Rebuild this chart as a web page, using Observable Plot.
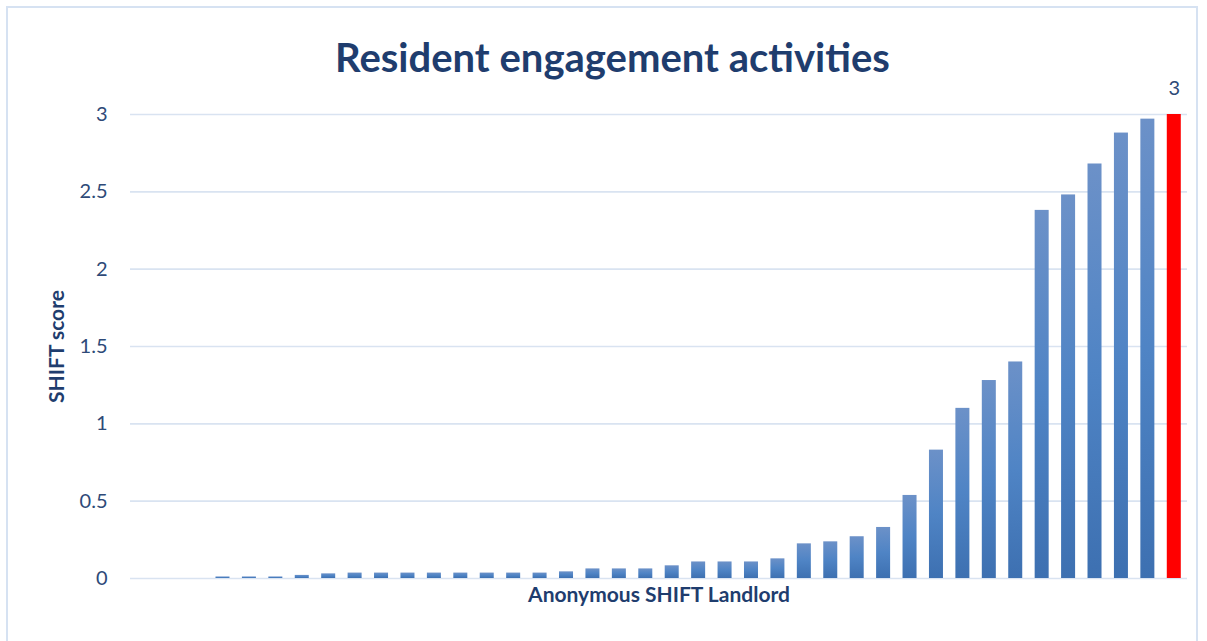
<!DOCTYPE html>
<html>
<head>
<meta charset="utf-8">
<script src="https://cdn.jsdelivr.net/npm/d3@7"></script>
<script src="https://cdn.jsdelivr.net/npm/@observablehq/plot@0.6"></script>
<style>
  html, body { margin: 0; padding: 0; background: #fff; overflow: hidden; }
  #wrap { position: relative; width: 1207px; height: 641px; font-family: Lato, "Open Sans", sans-serif; }
  #border { position: absolute; left: 6px; top: 6px; width: 1192px; height: 700px; border: 2px solid #D6E2F2; box-sizing: border-box; }
  #title { position: relative; height: 77px; box-sizing: border-box; padding-top: 35px; padding-left: 18px; text-align: center;
           font-size: 40px; line-height: 44px; font-weight: 700; color: #1F3D6E; white-space: nowrap; }
  #chart { position: relative; }
</style>
</head>
<body>
<div id="wrap">
  <div id="border"></div>
  <div id="title">Resident engagement activities</div>
  <div id="chart"></div>
</div>
<script>
// Landlords (anonymous), sorted by score
const landlords = d3.range(1, 41).map(i => "L" + i);
const scores = [
  0, 0, 0,
  0.01, 0.01, 0.01, 0.02, 0.03,
  0.035, 0.035, 0.035, 0.035, 0.035, 0.035, 0.035, 0.035,
  0.043, 0.062, 0.062, 0.062, 0.082,
  0.107, 0.107, 0.107, 0.127,
  0.224, 0.237, 0.27, 0.33, 0.537, 0.83,
  1.10, 1.28, 1.40,
  2.38, 2.48, 2.68, 2.88, 2.97, 3.0
];
const highlighted = ["L40"];
const yTicks = [0, 0.5, 1, 1.5, 2, 2.5, 3];

const data = landlords.map((name, i) => ({name, score: scores[i], hl: highlighted.includes(name)}));

const textColor = "#2E4A78";
const gridColor = "#D9E3F1";

const defsMark = () => {
  const g = d3.create("svg:g");
  const grad = g.append("defs").append("linearGradient")
    .attr("id", "barGrad").attr("x1", 0).attr("y1", 0).attr("x2", 0).attr("y2", 1);
  grad.append("stop").attr("offset", "0%").attr("stop-color", "#6C91C8");
  grad.append("stop").attr("offset", "50%").attr("stop-color", "#4F84C5");
  grad.append("stop").attr("offset", "100%").attr("stop-color", "#3D70B1");
  return g.node();
};

const chart = Plot.plot({
  width: 1207,
  height: 564,
  marginTop: 37,
  marginBottom: 63,
  marginLeft: 130,
  marginRight: 20,
  style: { fontFamily: "Lato, 'Open Sans', sans-serif", background: "transparent", overflow: "visible" },
  x: { domain: landlords, paddingInner: 0.47, paddingOuter: 0.235, round: false, axis: null },
  y: { domain: [0, 3], axis: null },
  marks: [
    defsMark,
    Plot.gridY(yTicks, { stroke: gridColor, strokeOpacity: 1, strokeWidth: 1.6 }),
    Plot.barY(data, { x: "name", y: "score", fill: d => d.hl ? "#FF0000" : "url(#barGrad)" }),
    Plot.text(yTicks, { frameAnchor: "left", y: d => d, text: d => String(d), dx: -23, textAnchor: "end",
                        fontSize: 20, fill: textColor }),
    Plot.text(data.filter(d => d.hl), { x: "name", y: "score", text: d => String(d.score), dy: -26,
                        fontSize: 20, fill: textColor }),
    Plot.text(["SHIFT score"], { frameAnchor: "left", dx: -73, rotate: -90, textAnchor: "middle",
                        fontSize: 21, fontWeight: 700, fill: "#1F3D6E" }),
    Plot.text(["Anonymous SHIFT Landlord"], { frameAnchor: "bottom", dy: 23, textAnchor: "middle",
                        fontSize: 21, fontWeight: 700, fill: "#1F3D6E" })
  ]
});
document.getElementById("chart").appendChild(chart);
</script>
</body>
</html>
